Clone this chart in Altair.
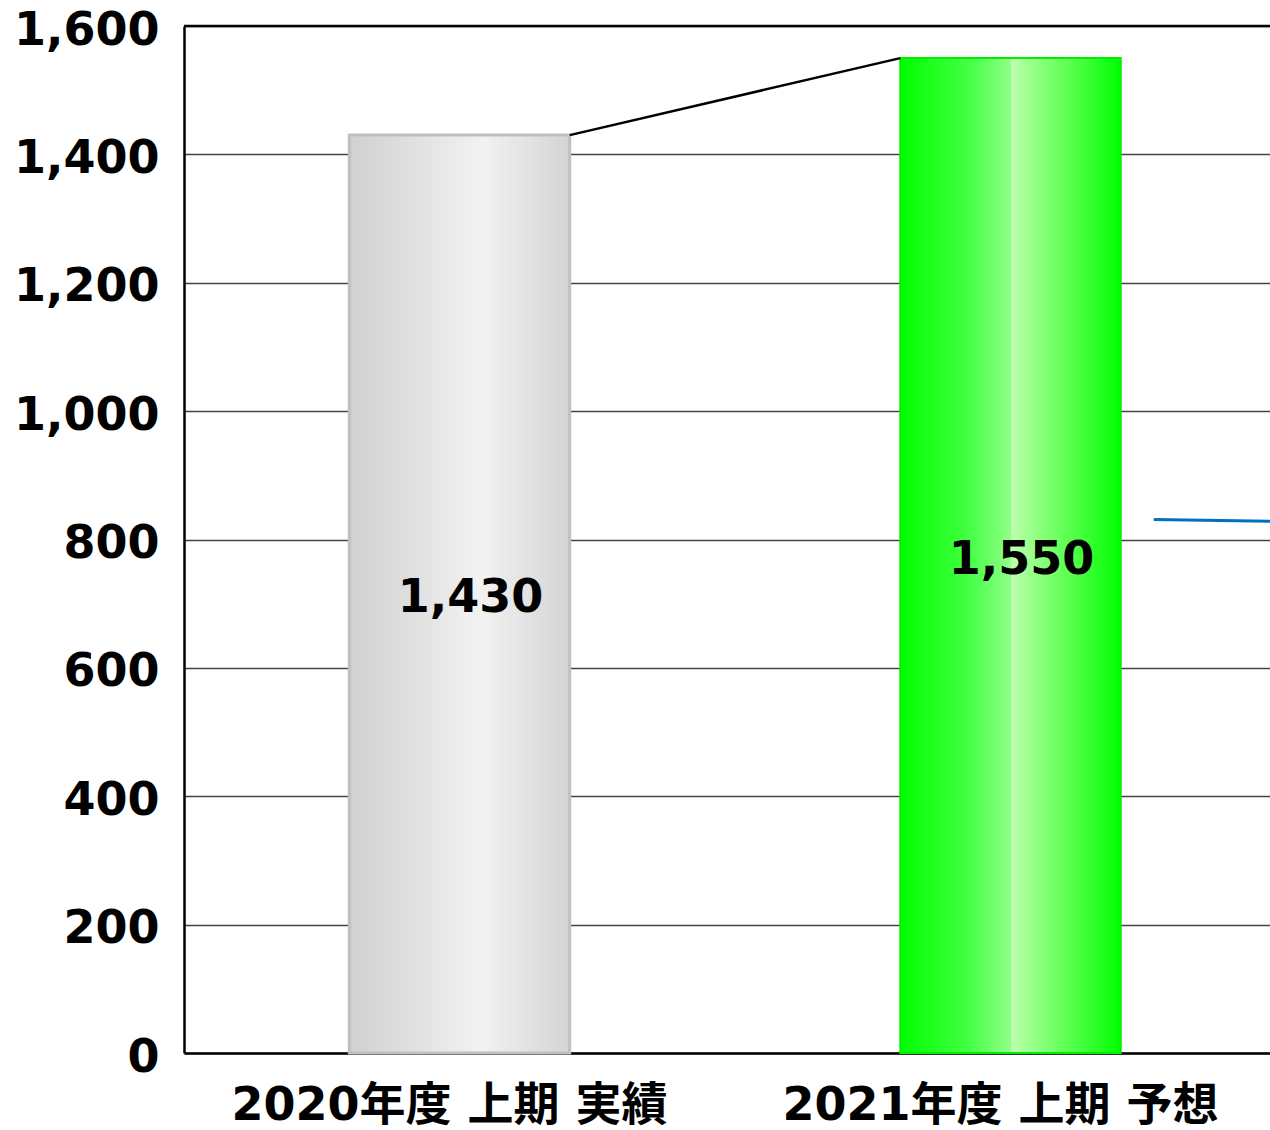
import altair as alt
import pandas as pd

categories = ["2020年度 上期 実績", "2021年度 上期 予想"]
values = [1430, 1550]
value_labels = ["1,430", "1,550"]
y_ticks = [0, 200, 400, 600, 800, 1000, 1200, 1400, 1600]
blue_level = [831, 828]

df = pd.DataFrame({"cat": categories, "value": values, "label": value_labels})
df["mid"] = df["value"] / 2
conn = pd.DataFrame({"from": [categories[0]], "to": [categories[1]],
                     "v1": [values[0]], "v2": [values[1]]})
blue = pd.DataFrame({"cat": [categories[1]], "a": [blue_level[0]], "b": [blue_level[1]]})
top = pd.DataFrame({"v": [y_ticks[-1]]})

x_scale = alt.Scale(domain=categories, range=[0, 1102], paddingInner=0, paddingOuter=0)
y_scale = alt.Scale(domain=[0, 1600], nice=False)

X = alt.X("cat:N", scale=x_scale, sort=categories, title=None,
          axis=alt.Axis(title=None, labelAngle=0, labelFont="DejaVu Sans, Noto Sans CJK JP",
                        labelFontWeight="bold", labelFontSize=46, labelColor="black",
                        labelPadding=30, ticks=False, domainColor="black", labelLimit=2000,
                        domainWidth=2.5, labelOffset=-10, labelBaseline="top"))
Y = alt.Y("value:Q", scale=y_scale, title=None,
          axis=alt.Axis(title=None, values=y_ticks,
                        labelExpr="format(datum.value, ',')", labelFont="DejaVu Sans",
                        labelFontWeight="bold", labelFontSize=46, labelColor="black",
                        labelPadding=25, ticks=False, grid=True, gridColor="#444444",
                        gridWidth=1.5, domainColor="black", domainWidth=2.5, labelLimit=500,
                        labelOffset=4))

gray_grad = alt.LinearGradient(
    gradient="linear", x1=0, x2=1, y1=0, y2=0,
    stops=[alt.GradientStop(offset=0, color="#d0d0d0"),
           alt.GradientStop(offset=0.6, color="#f2f2f2"),
           alt.GradientStop(offset=1, color="#d4d4d4")])
green_grad = alt.LinearGradient(
    gradient="linear", x1=0, x2=1, y1=0, y2=0,
    stops=[alt.GradientStop(offset=0, color="#00ff00"),
           alt.GradientStop(offset=0.3, color="#40ff40"),
           alt.GradientStop(offset=0.5, color="#90ff88"),
           alt.GradientStop(offset=0.505, color="#c0ffb0"),
           alt.GradientStop(offset=0.56, color="#a8ff98"),
           alt.GradientStop(offset=0.75, color="#60ff55"),
           alt.GradientStop(offset=1, color="#00ff00")])

gray_bar = alt.Chart(df).transform_filter(alt.datum.cat == categories[0]).mark_bar(
    width=alt.RelativeBandSize(0.4), color=gray_grad, stroke="#c0c0c0", strokeWidth=3
).encode(x=X, y=Y)

green_bar = alt.Chart(df).transform_filter(alt.datum.cat == categories[1]).mark_bar(
    width=alt.RelativeBandSize(0.4), color=green_grad, stroke="#00ee00", strokeWidth=2
).encode(x=alt.X("cat:N", scale=x_scale, title=None),
         y=alt.Y("value:Q", scale=y_scale, title=None))

connector = alt.Chart(conn).mark_rule(color="black", strokeWidth=2.5).encode(
    x=alt.X("from:N", scale=x_scale, bandPosition=0.7, title=None),
    x2=alt.X2("to:N", bandPosition=0.3),
    y=alt.Y("v1:Q", scale=y_scale, title=None),
    y2="v2:Q")

blue_line = alt.Chart(blue).mark_rule(color="#0070c0", strokeWidth=3).encode(
    x=alt.X("cat:N", scale=x_scale, bandPosition=0.76, title=None),
    x2=alt.value(1102),
    y=alt.Y("a:Q", scale=y_scale, title=None),
    y2="b:Q")

labels = alt.Chart(df).mark_text(font="DejaVu Sans", fontWeight="bold", fontSize=46,
                                 dx=11, dy=4, color="black").encode(
    x=alt.X("cat:N", scale=x_scale, title=None),
    y=alt.Y("mid:Q", scale=y_scale, title=None),
    text="label:N")

top_border = alt.Chart(top).mark_rule(color="black", strokeWidth=2.5).encode(
    y=alt.Y("v:Q", scale=y_scale, title=None))

chart = alt.layer(gray_bar, green_bar, connector, blue_line, labels, top_border).properties(
    width=1086, height=1027,
    autosize=alt.AutoSizeParams(type="none"),
    padding={"left": 184, "top": 26, "right": 0, "bottom": 77},
    background="white",
).configure_view(stroke=None)

chart.save("out.html", embed_options={"renderer": "svg", "actions": False})
